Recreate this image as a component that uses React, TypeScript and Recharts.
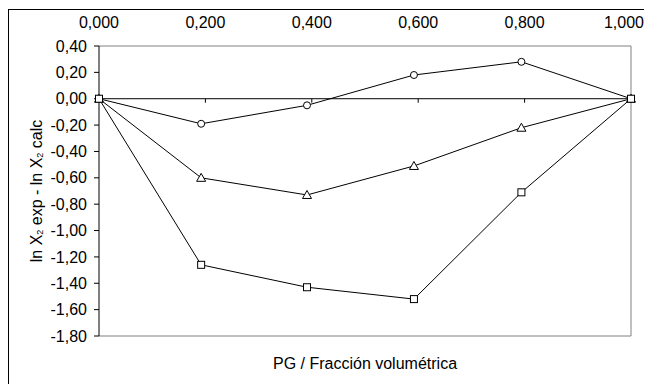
import React from "react";
import {
  LineChart,
  Line,
  XAxis,
  YAxis,
  ReferenceLine,
} from "recharts";

// fracción volumétrica de PG (eje superior)
const fracciones = [0, 0.192, 0.391, 0.592, 0.794, 1.0];
const serieCirculo = [0, -0.19, -0.05, 0.18, 0.28, 0];
const serieTriangulo = [0, -0.6, -0.73, -0.51, -0.22, 0];
const serieCuadrado = [0, -1.26, -1.43, -1.52, -0.71, 0];

const xTicks = [0, 0.2, 0.4, 0.6, 0.8, 1.0];
const yTicks = [0.4, 0.2, 0, -0.2, -0.4, -0.6, -0.8, -1.0, -1.2, -1.4, -1.6, -1.8];

const FONT = "'Liberation Sans', Arial, sans-serif";
const FS = 16;

const data = fracciones.map((x, i) => ({
  x,
  circ: serieCirculo[i],
  tri: serieTriangulo[i],
  sq: serieCuadrado[i],
}));

const fmtX = (v: number) => v.toFixed(3).replace(".", ",");
const fmtY = (v: number) => v.toFixed(2).replace(".", ",");

const CircleDot = (p: any) => (
  <circle key={p.index} cx={p.cx} cy={p.cy} r={3.5} fill="#fff" stroke="#000" strokeWidth={1} />
);
const SquareDot = (p: any) => (
  <rect key={p.index} x={p.cx - 3.5} y={p.cy - 3.5} width={7} height={7} fill="#fff" stroke="#000" strokeWidth={1} />
);
const TriangleDot = (p: any) => (
  <polygon
    key={p.index}
    points={`${p.cx},${p.cy - 4.5} ${p.cx - 4.5},${p.cy + 3.5} ${p.cx + 4.5},${p.cy + 3.5}`}
    fill="#fff"
    stroke="#000"
    strokeWidth={1}
  />
);

// etiquetas del eje superior; la última se corre un poco para que quepa (como en Excel)
const TopTick = (p: any) => {
  const last = p.payload.value === xTicks[xTicks.length - 1];
  return (
    <text
      x={p.x + (last ? -7 : 0)}
      y={p.y}
      textAnchor="middle"
      fontFamily={FONT}
      fontSize={FS}
      fill="#000"
    >
      {fmtX(p.payload.value)}
    </text>
  );
};

// línea del cero con marcas hacia abajo (eje X cruzando en 0)
const ZeroAxis = (p: any) => (
  <g>
    <line x1={p.x1} y1={p.y1} x2={p.x2} y2={p.y2} stroke="#000" strokeWidth={1} />
    {xTicks.slice(1, -1).map((t) => {
      const x = p.x1 + (p.x2 - p.x1) * t;
      return <line key={t} x1={x} x2={x} y1={p.y1} y2={p.y1 + 4} stroke="#000" strokeWidth={1} />;
    })}
  </g>
);

const YTitle = (props: any) => {
  const vb = props.viewBox || { x: 0, y: 0, width: 0, height: 0 };
  const cx = vb.x + 32.5;
  const cy = vb.y + vb.height / 2;
  return (
    <text
      x={cx}
      y={cy}
      transform={`rotate(-90, ${cx}, ${cy})`}
      textAnchor="middle"
      fontFamily={FONT}
      fontSize={FS}
      fill="#000"
    >
      <tspan>ln X</tspan>
      <tspan fontSize={9} dy={1}>2</tspan>
      <tspan dy={-1}> exp - ln X</tspan>
      <tspan fontSize={9} dy={1}>2</tspan>
      <tspan dy={-1}> calc</tspan>
    </text>
  );
};

export default function App() {
  return (
    <div
      style={{
        position: "relative",
        top: 1,
        width: 643,
        height: 375,
        borderLeft: "1px solid #000",
        borderTop: "1px solid #000",
        background: "#fff",
      }}
    >
      <style>{"body{overflow:hidden}"}</style>
      <LineChart
        width={643}
        height={375}
        data={data}
        margin={{ top: 0, right: 20, left: 0, bottom: 0 }}
      >
        <XAxis
          xAxisId={0}
          dataKey="x"
          type="number"
          orientation="top"
          domain={[0, 1]}
          ticks={xTicks}
          height={36}
          axisLine={{ stroke: "#808080" }}
          tickLine={false}
          tickSize={0}
          tickMargin={18}
          tick={TopTick}
        />
        <XAxis
          xAxisId="b"
          dataKey="x"
          type="number"
          orientation="bottom"
          domain={[0, 1]}
          height={49}
          axisLine={{ stroke: "#808080" }}
          tick={false}
          tickLine={false}
          label={{
            value: "PG / Fracción volumétrica",
            position: "insideBottom",
            offset: 16,
            fontSize: FS,
            fontFamily: FONT,
            fill: "#000",
          }}
        />
        <YAxis
          yAxisId={0}
          type="number"
          domain={[-1.8, 0.4]}
          ticks={yTicks}
          tickFormatter={fmtY}
          width={90}
          axisLine={{ stroke: "#000" }}
          tickLine={{ stroke: "#000" }}
          tickSize={5}
          tickMargin={7}
          tick={{ fontSize: FS, fontFamily: FONT, fill: "#000" }}
          label={<YTitle />}
        />
        <YAxis
          yAxisId="r"
          orientation="right"
          type="number"
          domain={[-1.8, 0.4]}
          width={1}
          axisLine={{ stroke: "#808080" }}
          tick={false}
          tickLine={false}
        />
        <ReferenceLine y={0} xAxisId={0} yAxisId={0} shape={ZeroAxis} />
        <Line
          dataKey="circ"
          type="linear"
          stroke="#000"
          strokeWidth={1}
          dot={CircleDot}
          isAnimationActive={false}
        />
        <Line
          dataKey="tri"
          type="linear"
          stroke="#000"
          strokeWidth={1}
          dot={TriangleDot}
          isAnimationActive={false}
        />
        <Line
          dataKey="sq"
          type="linear"
          stroke="#000"
          strokeWidth={1}
          dot={SquareDot}
          isAnimationActive={false}
        />
      </LineChart>
    </div>
  );
}
